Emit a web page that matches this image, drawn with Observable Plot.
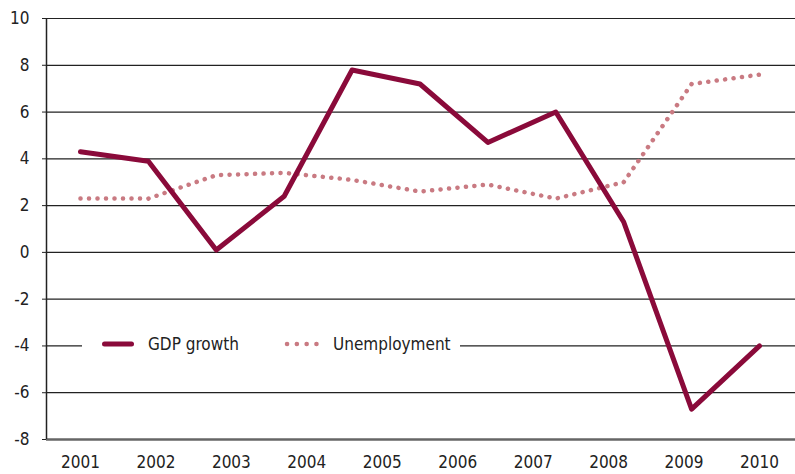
<!DOCTYPE html>
<html>
<head>
<meta charset="utf-8">
<script src="https://cdn.jsdelivr.net/npm/d3@7"></script>
<script src="https://cdn.jsdelivr.net/npm/@observablehq/plot@0.6"></script>
<style>
  body { margin: 0; background: white; }
  #wrap { position: relative; width: 795px; height: 474px; font-stretch: condensed; }
  #wrap svg text { font-stretch: condensed; }
  #legend { position: absolute; left: 82px; top: 330px; width: 378px; height: 28px; background: white; }
  #legend svg { position: absolute; left: 0; top: 0; }
</style>
</head>
<body>
<div id="wrap"></div>
<script>
const years = ["2001","2002","2003","2004","2005","2006","2007","2008","2009","2010"];
const gdpGrowth = [4.3, 3.9, 0.1, 2.4, 7.8, 7.2, 4.7, 6.0, 1.3, -6.7, -4.0];
const unemployment = [2.3, 2.3, 3.3, 3.4, 3.1, 2.6, 2.9, 2.3, 3.0, 7.2, 7.6];
const yTicks = [-8, -6, -4, -2, 0, 2, 4, 6, 8, 10];

const gdpColor = "#8a0a3a";
const unempColor = "#c97a82";
const font = "'DejaVu Sans Condensed', 'DejaVu Sans', sans-serif";

const n = gdpGrowth.length;
const step = (n - 1) / (years.length - 1);
const yearPos = years.map((d, i) => i * step);
const gdpData = gdpGrowth.map((v, i) => ({i, v}));
const unData = unemployment.map((v, i) => ({i, v}));

const chart = Plot.plot({
  width: 795,
  height: 474,
  marginTop: 18,
  marginBottom: 35,
  marginLeft: 46,
  marginRight: 0,
  x: {domain: [-0.5, 10.53], axis: null, label: null},
  y: {domain: [-8, 10], axis: null, label: null},
  style: {fontFamily: font, fontSize: "17px", color: "#222", background: "white"},
  marks: [
    Plot.ruleY(yTicks.filter(d => d > -8), {stroke: "#222", strokeWidth: 1.2}),
    Plot.ruleY([-8], {stroke: "#666", strokeWidth: 2.5}),
    Plot.ruleX([-0.5], {y1: -8, y2: 10, stroke: "#222", strokeWidth: 1.5}),
    Plot.axisY(yTicks, {tickSize: 4, tickPadding: 13, fontSize: 17, stroke: "#222", label: null, tickFormat: d => String(d)}),
    Plot.axisX(yearPos, {tickSize: 0, tickPadding: 16, fontSize: 17, label: null, tickFormat: d => years[Math.round(d / step)]}),
    Plot.line(unData, {x: "i", y: "v", stroke: unempColor, strokeWidth: 4.5, strokeDasharray: "0.1 8.4", strokeLinecap: "round"}),
    Plot.line(gdpData, {x: "i", y: "v", stroke: gdpColor, strokeWidth: 5})
  ]
});
const wrap = document.getElementById("wrap");
wrap.appendChild(chart);

const ff = font.replace(/'/g, "");
const legend = document.createElement("div");
legend.id = "legend";
legend.innerHTML = `
<svg width="378" height="28">
  <line x1="22.5" y1="14" x2="49.5" y2="14" stroke="${gdpColor}" stroke-width="5" stroke-linecap="round"/>
  <text x="66" y="20" font-family="${ff}" font-size="17" fill="#222">GDP growth</text>
  <line x1="205" y1="14" x2="236" y2="14" stroke="${unempColor}" stroke-width="4.5" stroke-dasharray="0.1 9.7" stroke-linecap="round"/>
  <text x="251" y="20" font-family="${ff}" font-size="17" fill="#222">Unemployment</text>
</svg>`;
wrap.appendChild(legend);
</script>
</body>
</html>
